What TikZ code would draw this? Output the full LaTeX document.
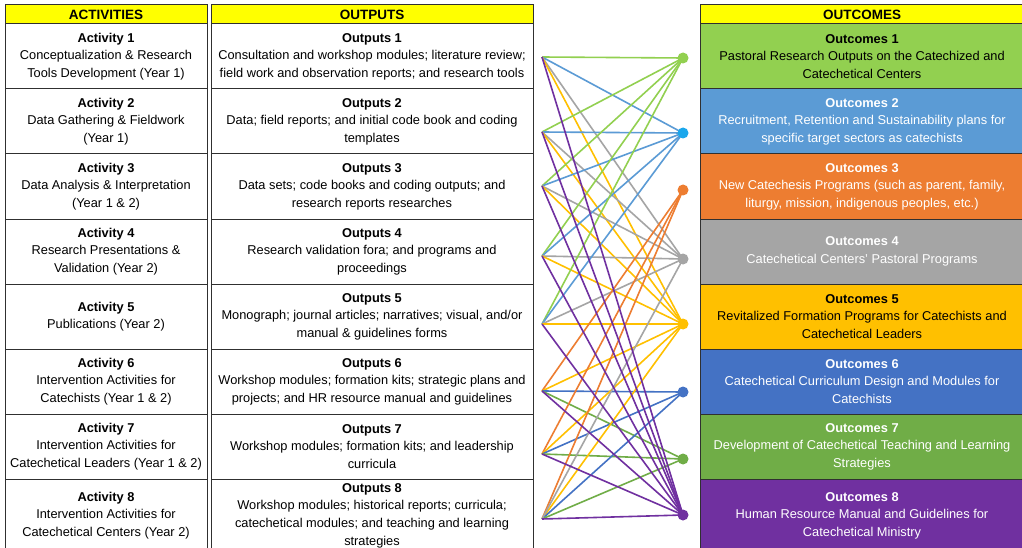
\documentclass[tikz,border=0pt]{standalone}
\usepackage{fontspec}
\setmainfont{Liberation Sans}
\definecolor{cA}{HTML}{92D050}
\definecolor{cB}{HTML}{5B9BD5}
\definecolor{cBdot}{HTML}{1AA7EC}
\definecolor{cC}{HTML}{ED7D31}
\definecolor{cD}{HTML}{A5A5A5}
\definecolor{cE}{HTML}{FFC000}
\definecolor{cF}{HTML}{4472C4}
\definecolor{cG}{HTML}{70AD47}
\definecolor{cH}{HTML}{7030A0}
\definecolor{hdr}{HTML}{FFFF00}
\definecolor{bord}{HTML}{303030}
\begin{document}
\begin{tikzpicture}[x=1pt,y=-1pt,
  cell/.style={draw=bord, line width=1pt, align=center, inner sep=0pt,
    font=\fontsize{12.8}{17.6}\selectfont},
  actcell/.style={cell, minimum width=202pt, minimum height=65pt},
  outcell/.style={cell, minimum width=322pt, minimum height=65pt},
  oucell/.style={cell, minimum width=324pt, minimum height=65pt},
  hdrcell/.style={cell, fill=hdr, minimum height=19pt, font=\fontsize{13.5}{14}\selectfont\bfseries},
  conn/.style={line width=1.6pt},
  dotnode/.style={circle, inner sep=0pt, minimum size=11pt}
]
\useasboundingbox (0,0) rectangle (1022,548);
\clip (0,0) rectangle (1022,548);
\fill[white] (0,0) rectangle (1022,548);

% headers
\node[hdrcell, minimum width=202pt] (hact) at (106,14.5) {ACTIVITIES};
\node[hdrcell, minimum width=322pt] (hout) at (372,14.5) {OUTPUTS};
\node[hdrcell, minimum width=324pt] (hocm) at (862,14.5) {OUTCOMES};

% activities
\node[actcell] (a1) at (106,56.5) {\textbf{Activity 1}\\Conceptualization \& Research\\Tools Development (Year 1)};
\node[actcell] (a2) at (106,121.5) {\textbf{Activity 2}\\Data Gathering \& Fieldwork\\(Year 1)};
\node[actcell] (a3) at (106,186.5) {\textbf{Activity 3}\\Data Analysis \& Interpretation\\(Year 1 \& 2)};
\node[actcell] (a4) at (106,251.5) {\textbf{Activity 4}\\Research Presentations \&\\Validation (Year 2)};
\node[actcell] (a5) at (106,316.5) {\textbf{Activity 5}\\Publications (Year 2)};
\node[actcell] (a6) at (106,381.5) {\textbf{Activity 6}\\Intervention Activities for\\Catechists (Year 1 \& 2)};
\node[actcell] (a7) at (106,446.5) {\textbf{Activity 7}\\Intervention Activities for\\Catechetical Leaders (Year 1 \& 2)};
\node[actcell, minimum height=73pt] (a8) at (106,515.5) {\textbf{Activity 8}\\Intervention Activities for\\Catechetical Centers (Year 2)};

% outputs
\node[outcell] (p1) at (372,56.5) {\textbf{Outputs 1}\\Consultation and workshop modules; literature review;\\field work and observation reports; and research tools};
\node[outcell] (p2) at (372,121.5) {\textbf{Outputs 2}\\Data; field reports; and initial code book and coding\\templates};
\node[outcell] (p3) at (372,186.5) {\textbf{Outputs 3}\\Data sets; code books and coding outputs; and\\research reports researches};
\node[outcell] (p4) at (372,251.5) {\textbf{Outputs 4}\\Research validation fora; and programs and\\proceedings};
\node[outcell] (p5) at (372,316.5) {\textbf{Outputs 5}\\Monograph; journal articles; narratives; visual, and/or\\manual \& guidelines forms};
\node[outcell] (p6) at (372,381.5) {\textbf{Outputs 6}\\Workshop modules; formation kits; strategic plans and\\projects; and HR resource manual and guidelines};
\node[outcell] (p7) at (372,446.5) {\textbf{Outputs 7}\\Workshop modules; formation kits; and leadership\\curricula};
\node[outcell, minimum height=73pt] (p8) at (372,515.5) {\textbf{Outputs 8}\\Workshop modules; historical reports; curricula;\\catechetical modules; and teaching and learning\\strategies};

% outcomes
\node[oucell, fill=cA] (q1) at (862,56.5) {\textbf{Outcomes 1}\\Pastoral Research Outputs on the Catechized and\\Catechetical Centers};
\node[oucell, fill=cB, text=white] (q2) at (862,121.5) {\textbf{Outcomes 2}\\Recruitment, Retention and Sustainability plans for\\specific target sectors as catechists};
\node[oucell, fill=cC, text=white] (q3) at (862,186.5) {\textbf{Outcomes 3}\\New Catechesis Programs (such as parent, family,\\liturgy, mission, indigenous peoples, etc.)};
\node[oucell, fill=cD, text=white] (q4) at (862,251.5) {\textbf{Outcomes 4}\\Catechetical Centers' Pastoral Programs};
\node[oucell, fill=cE] (q5) at (862,316.5) {\textbf{Outcomes 5}\\Revitalized Formation Programs for Catechists and\\Catechetical Leaders};
\node[oucell, fill=cF, text=white] (q6) at (862,381.5) {\textbf{Outcomes 6}\\Catechetical Curriculum Design and Modules for\\Catechists};
\node[oucell, fill=cG, text=white] (q7) at (862,446.5) {\textbf{Outcomes 7}\\Development of Catechetical Teaching and Learning\\Strategies};
\node[oucell, fill=cH, text=white, minimum height=73pt] (q8) at (862,515.5) {\textbf{Outcomes 8}\\Human Resource Manual and Guidelines for\\Catechetical Ministry};

% connector end points
\coordinate (s1) at (542,57);
\coordinate (s2) at (542,132);
\coordinate (s3) at (542,186);
\coordinate (s4) at (542,256);
\coordinate (s5) at (542,324);
\coordinate (s6) at (542,391);
\coordinate (s7) at (542,454);
\coordinate (s8) at (542,519);
\coordinate (t1) at (683,58);
\coordinate (t2) at (683,133);
\coordinate (t3) at (683,190);
\coordinate (t4) at (683,259);
\coordinate (t5) at (683,324);
\coordinate (t6) at (683,392);
\coordinate (t7) at (683,459);
\coordinate (t8) at (683,515);

% connectors
\foreach \s in {1,2,3,4,5} {
  \draw[conn, cA] (s\s) -- (t1);
  \draw[conn, cB] (s\s) -- (t2);
  \draw[conn, cD] (s\s) -- (t4);
  \draw[conn, cE] (s\s) -- (t5);
}
\foreach \s in {6,7,8} {
  \draw[conn, cC] (s\s) -- (t3);
  \draw[conn, cE] (s\s) -- (t5);
  \draw[conn, cF] (s\s) -- (t6);
  \draw[conn, cG] (s\s) -- (t7);
}
\draw[conn, cD] (s8) -- (t4);
\foreach \s in {1,...,8} {
  \draw[conn, cH] (s\s) -- (t8);
}

% dots
\node[dotnode, fill=cA] (d1) at (t1) {};
\node[dotnode, fill=cBdot] (d2) at (t2) {};
\node[dotnode, fill=cC] (d3) at (t3) {};
\node[dotnode, fill=cD] (d4) at (t4) {};
\node[dotnode, fill=cE] (d5) at (t5) {};
\node[dotnode, fill=cF] (d6) at (t6) {};
\node[dotnode, fill=cG] (d7) at (t7) {};
\node[dotnode, fill=cH] (d8) at (t8) {};
\end{tikzpicture}
\end{document}
